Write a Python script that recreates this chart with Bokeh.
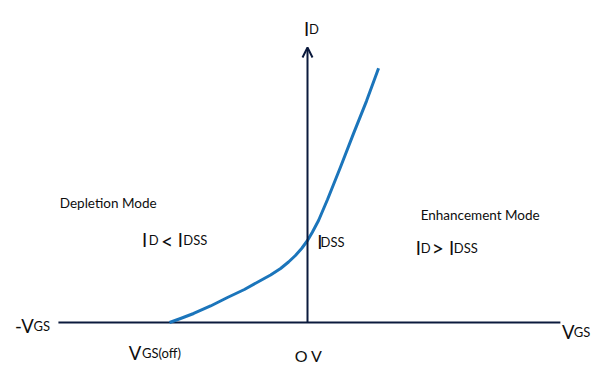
from bokeh.plotting import figure
from bokeh.models import Range1d, Arrow, OpenHead, ColumnDataSource
from bokeh.core.properties import value
from bokeh.embed import file_html
from bokeh.resources import INLINE

# ---- data: transfer characteristic (VGS in V, ID in mA) ----
vgs = [-4.0, -3.68, -3.30, -2.81, -2.32, -1.83, -1.36, -1.07, -0.78, -0.55,
       -0.35, -0.17, 0.0, 0.14, 0.32, 0.58, 0.96, 1.33, 1.71, 2.06]
i_d = [0.0, 0.39, 0.88, 1.61, 2.44, 3.22, 4.10, 4.63, 5.27, 5.90,
       6.54, 7.22, 8.0, 8.80, 9.95, 12.0, 15.2, 18.4, 21.6, 24.8]

# axis extents
vgs_axis = [-7.22, 7.33]
id_axis_top = 26.83

FONT = "Lato"
INK = "#0e0e0e"
AXIS = "#0b1a3d"
CURVE = "#1b75bb"

p = figure(width=592, height=364, output_backend="svg", toolbar_location=None,
           x_range=Range1d(-8.899, 8.261), y_range=Range1d(-4.098, 31.415),
           x_axis_type=None, y_axis_type=None, min_border=0)
p.grid.visible = False
p.outline_line_color = None
p.background_fill_color = "white"
p.border_fill_color = "white"

# axes
p.line(x=vgs_axis, y=[0, 0], line_color=AXIS, line_width=2)
p.add_layout(Arrow(end=OpenHead(size=10, line_color=AXIS, line_width=2),
                   x_start=0, y_start=0, x_end=0, y_end=id_axis_top,
                   line_color=AXIS, line_width=2))

# curve
p.line(x=vgs, y=i_d, line_color=CURVE, line_width=3, line_join="round")

def txt(xs, ys, texts, size):
    src = ColumnDataSource(dict(x=xs, y=ys, t=texts))
    p.text(x="x", y="y", text="t", source=src, text_font=value(FONT),
           text_font_size=size, text_color=INK, text_baseline="alphabetic",
           text_align="left")

# large letters
txt([-0.10, -8.48, -5.18, 7.38, 0.28, -4.80, -3.76, 3.14, 4.10],
    [28.59, -0.34, -3.02, -0.88, 7.90, 8.0, 8.0, 7.27, 7.27],
    ["I", "-V", "V", "V", "I", "I", "I", "I", "I"], "18.5px")
# subscripts
txt([0.04, -7.94, -4.80, 7.72, 0.38, -4.60, -3.60, 3.28, 4.24],
    [28.59, -0.34, -3.02, -0.88, 7.90, 8.0, 8.0, 7.27, 7.27],
    ["D", "GS", "GS(off)", "GS", "DSS", "D", "DSS", "D", "DSS"], "13px")
# relational symbols
txt([-4.25, 3.60], [8.0, 7.27], ["<", ">"], "21px")
# origin label
txt([-0.37], [-3.22], ["O V"], "16px")
# mode labels
txt([-7.18, 3.28], [11.61, 10.44], ["Depletion Mode", "Enhancement Mode"], "13.5px")

open("out.html", "w").write(file_html(p, INLINE))
